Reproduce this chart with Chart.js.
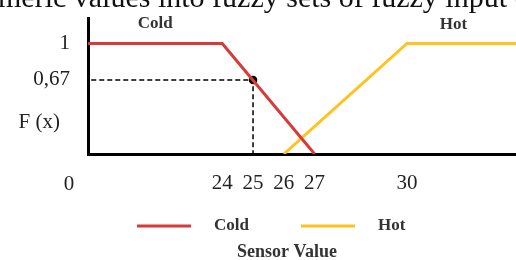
<!DOCTYPE html>
<html>
<head>
<meta charset="utf-8">
<script src="https://cdn.jsdelivr.net/npm/chart.js@4"></script>
<style>
html, body { margin: 0; padding: 0; background: #fff; overflow: hidden; }
</style>
</head>
<body>
<canvas id="chart" width="516" height="260"></canvas>
<script>
// membership functions (sensor value -> F(x))
const coldX = [0, 24, 27];
const coldY = [1, 1, 0];
const hotX = [26, 30, 35];
const hotY = [0, 1, 1];
// sample reading marked with the dashed guide
const sampleX = [0, 25, 25];
const sampleY = [0.67, 0.67, 0];
const xTicks = [24, 25, 26, 27, 30];
const yTicks = [0.67, 1];
const seriesNames = ['Cold', 'Hot'];
const seriesColors = ['#d83a3a', '#ffc21f'];
const xTitle = 'Sensor Value';
const yTitle = 'F (x)';
const originLabel = '0';
const captionText = 'numeric values into fuzzy sets of fuzzy input (x)';

const serif = "'Liberation Serif', 'DejaVu Serif', serif";
const toPoints = (xs, ys) => xs.map((x, i) => ({ x: x, y: ys[i] }));

// text that sits around the plot: labels, legend, caption
const extrasPlugin = {
    id: 'extras',
    afterDraw(chart) {
        const ctx = chart.ctx;
        const area = chart.chartArea;
        const xs = chart.scales.x;
        const ys = chart.scales.y;
        ctx.save();

        // caption text of the page, cut off at the top
        ctx.fillStyle = '#111';
        ctx.font = '30px ' + serif;
        ctx.textBaseline = 'alphabetic';
        ctx.textAlign = 'left';
        ctx.fillText(captionText, -2 - ctx.measureText('nu').width, 7);

        // y title and origin
        ctx.fillStyle = '#222';
        ctx.font = '21px ' + serif;
        ctx.textAlign = 'right';
        ctx.textBaseline = 'middle';
        ctx.fillText(yTitle, area.left - 28, area.bottom - 32);
        ctx.textAlign = 'center';
        ctx.fillText(originLabel, area.left - 19, area.bottom + 30);

        // series names over the plateaus
        ctx.font = 'bold 17px ' + serif;
        ctx.fillStyle = '#333';
        const top1 = ys.getPixelForValue(1) - 20;
        ctx.fillText(seriesNames[0], (area.left + xs.getPixelForValue(coldX[1])) / 2, top1);
        ctx.fillText(seriesNames[1], (xs.getPixelForValue(hotX[1]) + area.right) / 2 - 8, top1 + 1);

        // legend
        const lineLen = 54, gap = 23, itemGap = 52;
        let x = 137;
        const ly = 226;
        ctx.textAlign = 'left';
        seriesNames.forEach((name, i) => {
            ctx.strokeStyle = seriesColors[i];
            ctx.lineWidth = 3;
            ctx.beginPath();
            ctx.moveTo(x, ly);
            ctx.lineTo(x + lineLen, ly);
            ctx.stroke();
            x += lineLen + gap;
            ctx.fillText(name, x, ly);
            x += ctx.measureText(name).width + itemGap;
        });

        // x title
        ctx.textAlign = 'center';
        ctx.font = 'bold 18px ' + serif;
        ctx.fillText(xTitle, 287, 252);
        ctx.restore();
    }
};

const chart = new Chart(document.getElementById('chart'), {
    type: 'line',
    data: {
        datasets: [
            {
                label: seriesNames[0],
                data: toPoints(coldX, coldY),
                borderColor: seriesColors[0],
                borderWidth: 3,
                pointRadius: 0,
                tension: 0
            },
            {
                label: seriesNames[1],
                data: toPoints(hotX, hotY),
                borderColor: seriesColors[1],
                borderWidth: 3,
                pointRadius: 0,
                tension: 0
            },
            {
                label: 'sample',
                data: toPoints(sampleX, sampleY),
                borderColor: '#000',
                borderWidth: 1.5,
                borderDash: [5, 3],
                pointRadius: ctx => ctx.dataIndex === 1 ? 3.5 : 0,
                pointBackgroundColor: '#000',
                pointBorderColor: '#000',
                tension: 0
            }
        ]
    },
    options: {
        responsive: false,
        devicePixelRatio: 1,
        animation: false,
        layout: { padding: { top: 18, left: 0, right: 0, bottom: 0 } },
        plugins: {
            legend: { display: false },
            tooltip: { enabled: false }
        },
        scales: {
            x: {
                type: 'linear',
                min: 19.64,
                max: 33.54,
                afterBuildTicks: s => { s.ticks = xTicks.map(v => ({ value: v })); },
                afterFit: s => { s.height = 106; },
                grid: { display: false, drawTicks: false },
                border: { display: true, color: '#000', width: 3 },
                ticks: {
                    autoSkip: false,
                    maxRotation: 0,
                    padding: 17,
                    color: '#222',
                    font: { family: serif, size: 21 }
                }
            },
            y: {
                min: 0,
                max: 1.23,
                afterBuildTicks: s => { s.ticks = yTicks.map(v => ({ value: v })); },
                afterFit: s => {
                    // keep the axis top where the layout puts it
                    s.width = 88;
                    s.paddingTop = 0;
                    s.paddingBottom = 0;
                },
                grid: { display: false, drawTicks: false },
                border: { display: true, color: '#000', width: 3 },
                ticks: {
                    padding: 18,
                    color: '#222',
                    font: { family: serif, size: 21 },
                    callback: v => String(v).replace('.', ',')
                }
            }
        }
    },
    plugins: [extrasPlugin]
});
</script>
</body>
</html>
